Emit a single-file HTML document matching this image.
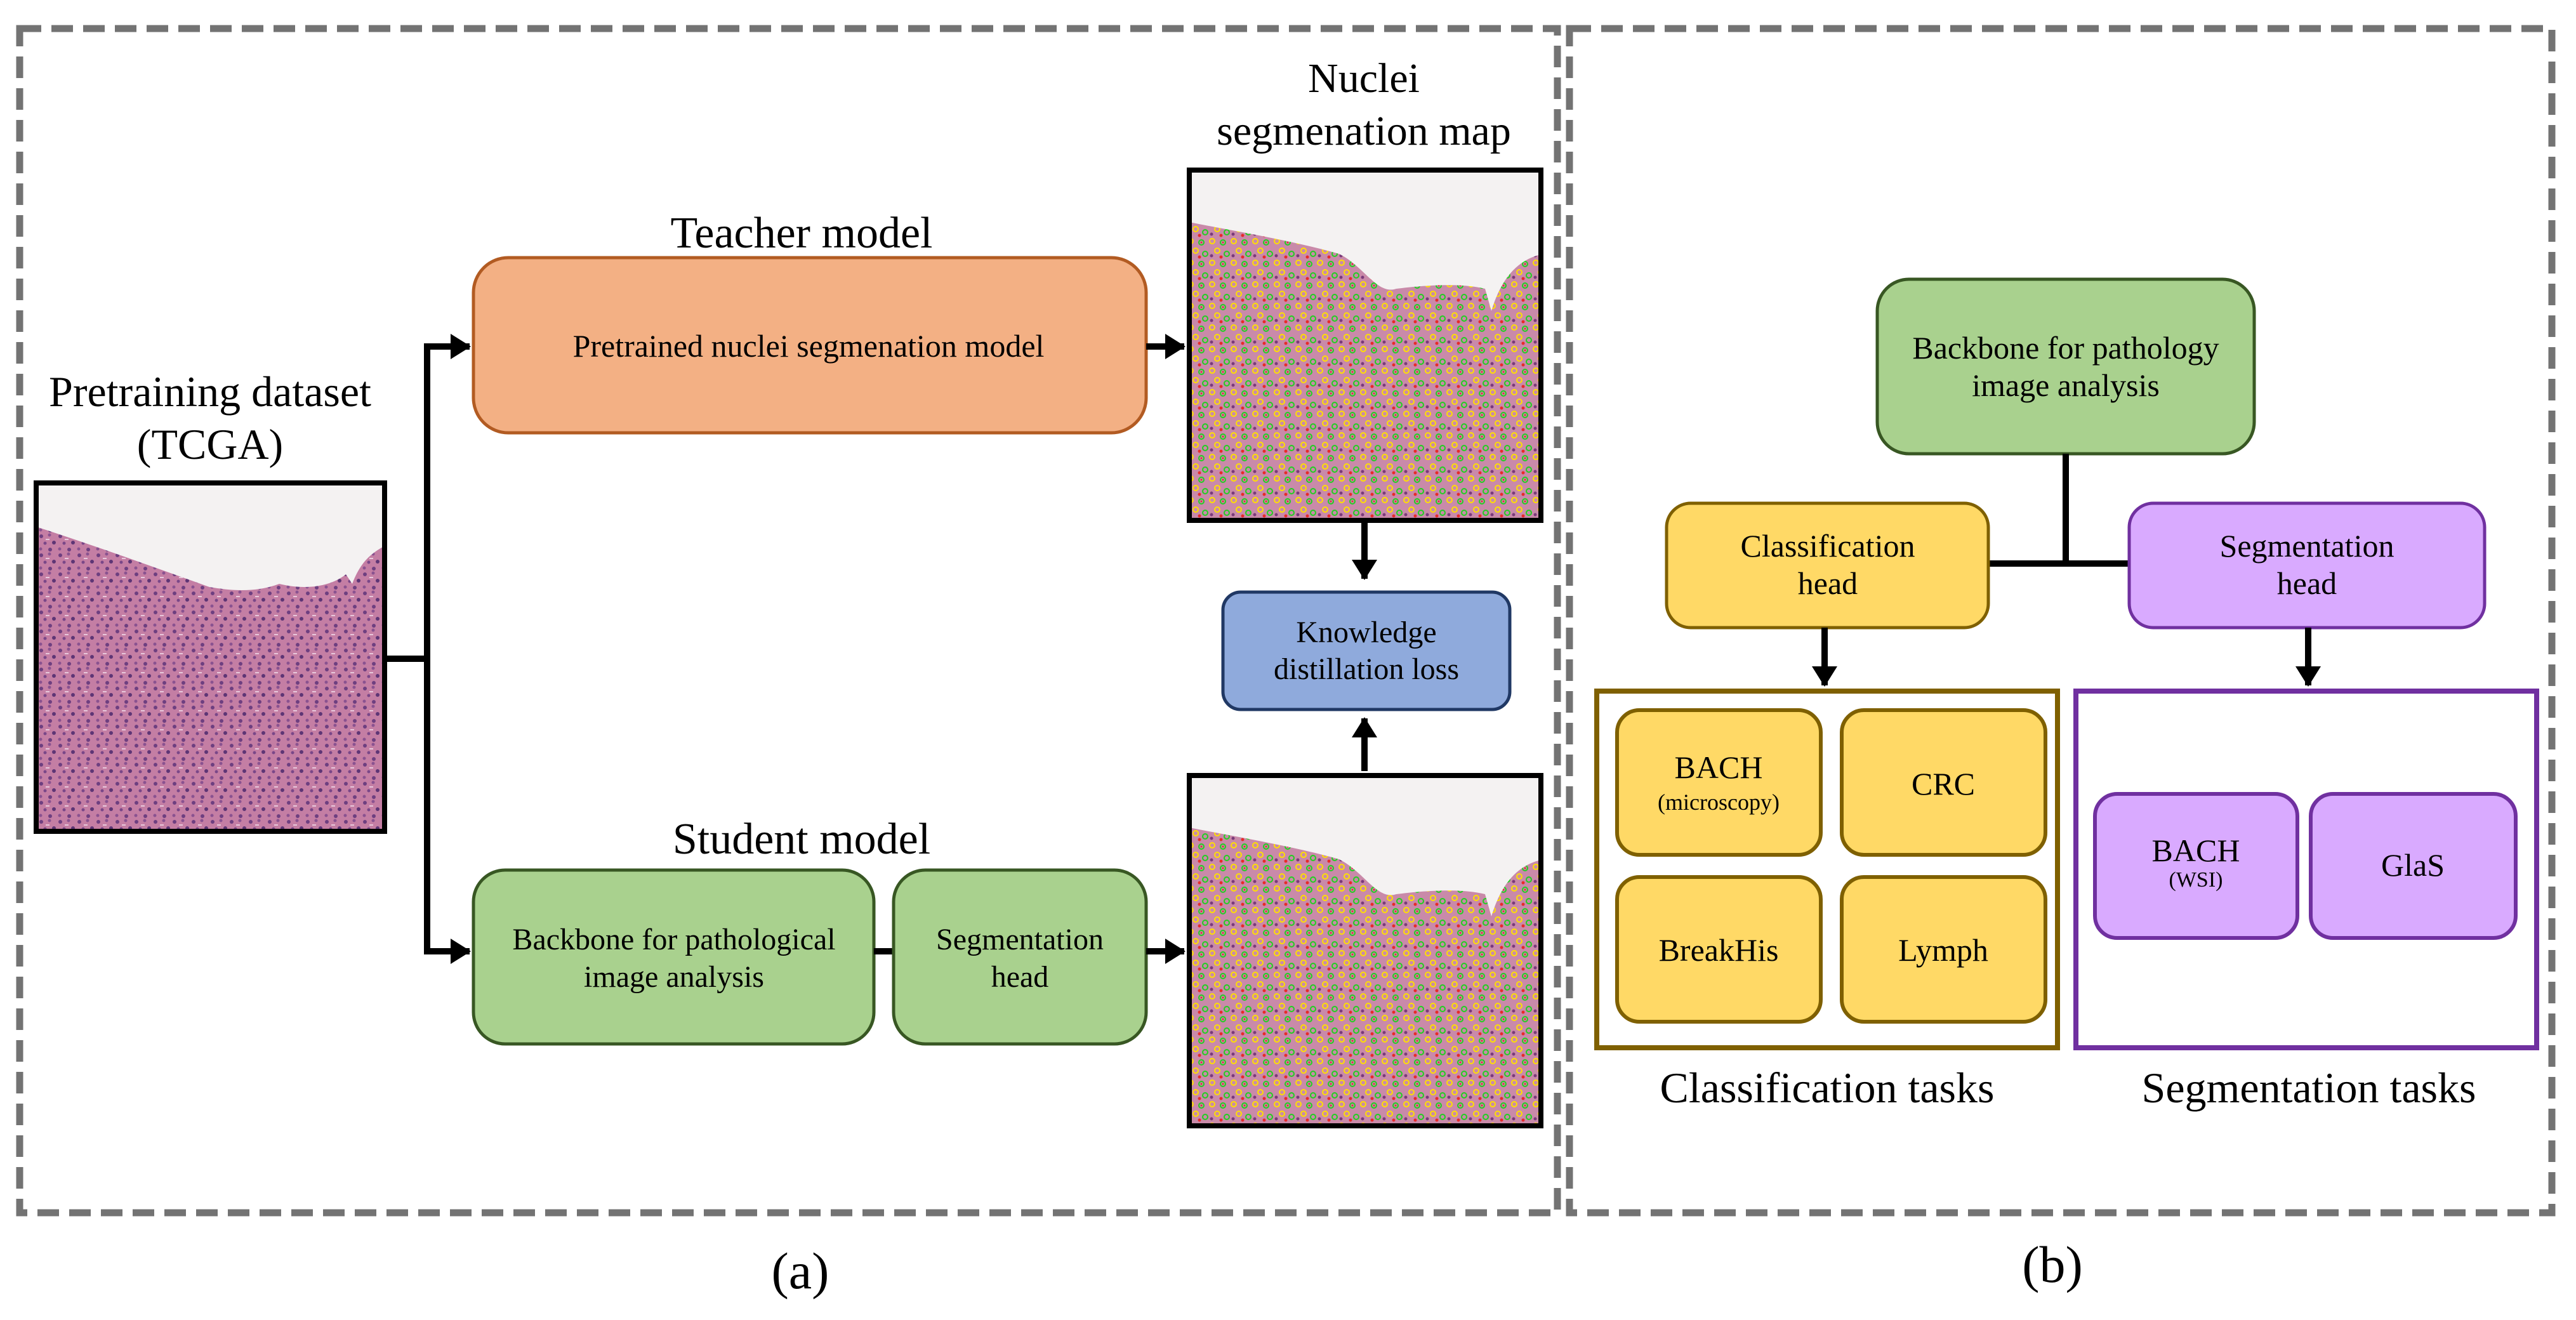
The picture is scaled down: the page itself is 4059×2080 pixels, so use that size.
<!DOCTYPE html>
<html><head><meta charset="utf-8"><style>html,body{margin:0;padding:0;background:#fff}svg{display:block}</style></head>
<body>
<svg width="4059" height="2080" viewBox="0 0 4059 2080" xmlns="http://www.w3.org/2000/svg" font-family="'Liberation Serif', serif">
<defs>
<pattern id="tis" width="30" height="30" patternUnits="userSpaceOnUse">
<rect width="30" height="30" fill="#c47ea4"/>
<circle cx="5" cy="5" r="3" fill="#6e3f80"/><circle cx="18" cy="3" r="2.5" fill="#8a5290"/>
<circle cx="25" cy="15" r="3" fill="#5e3575"/><circle cx="11" cy="16" r="2.5" fill="#7a4788"/>
<circle cx="4" cy="25" r="2.5" fill="#8a5290"/><circle cx="19" cy="26" r="3" fill="#6e3f80"/>
<rect x="12" y="9" width="6" height="2" fill="#e8c8dc"/>
</pattern>
<pattern id="seg" width="34" height="34" patternUnits="userSpaceOnUse">
<rect width="34" height="34" fill="#c98aa9"/>
<circle cx="6" cy="6" r="4" fill="none" stroke="#ffe000" stroke-width="2"/>
<circle cx="23" cy="8" r="4" fill="none" stroke="#20d020" stroke-width="2"/><circle cx="23" cy="8" r="1.5" fill="#e03040"/>
<circle cx="14" cy="21" r="4" fill="none" stroke="#ffe000" stroke-width="2"/>
<circle cx="29" cy="26" r="4" fill="none" stroke="#20d020" stroke-width="2"/>
<circle cx="5" cy="29" r="2.5" fill="#7a3a7a"/><circle cx="20" cy="31" r="2.5" fill="#e82a2a"/>
</pattern>
<marker id="ah" markerWidth="4" markerHeight="4" refX="3" refY="2" orient="auto" markerUnits="strokeWidth"><path d="M0,0 L3.2,2 L0,4 Z" fill="#000"/></marker>
</defs>

<rect x="31" y="45" width="2423" height="1866" fill="none" stroke="#737373" stroke-width="11" stroke-dasharray="34,16"/>
<rect x="2473" y="45" width="1548" height="1866" fill="none" stroke="#737373" stroke-width="11" stroke-dasharray="34,16"/>

<text x="331" y="640" font-size="68" text-anchor="middle">Pretraining dataset</text>
<text x="331" y="723" font-size="68" text-anchor="middle">(TCGA)</text>
<g>
<rect x="57" y="761" width="549" height="549" fill="url(#tis)"/>
<path d="M57,761 H606 V860 C590,870 570,880 555,920 L545,905 C520,925 480,930 440,920 C400,935 360,930 330,925 C260,900 150,860 57,830 Z" fill="#f4f2f2"/>
<rect x="57" y="761" width="549" height="549" fill="none" stroke="#000" stroke-width="8"/>
</g>

<path d="M606,1038 H673 V546 H740" fill="none" stroke="#000" stroke-width="10" marker-end="url(#ah)"/>
<path d="M673,1038 V1499 H740" fill="none" stroke="#000" stroke-width="10" marker-end="url(#ah)"/>

<text x="1263" y="390" font-size="70" text-anchor="middle">Teacher model</text>
<rect x="746" y="406" width="1060" height="276" rx="55" fill="#f3b084" stroke="#b25b22" stroke-width="5"/>
<text x="1274" y="562" font-size="50" text-anchor="middle">Pretrained nuclei segmenation model</text>
<path d="M1806,546 H1866" stroke="#000" stroke-width="10" marker-end="url(#ah)"/>

<text x="2149" y="145" font-size="66" text-anchor="middle">Nuclei</text>
<text x="2149" y="228" font-size="66" text-anchor="middle">segmenation map</text>
<g>
<rect x="1874" y="268" width="554" height="552" fill="url(#seg)"/>
<path d="M1874,268 H2428 V401 C2390,410 2365,440 2350,490 L2340,455 C2300,445 2240,450 2200,455 C2170,465 2150,420 2110,400 C2040,380 1950,365 1874,350 Z" fill="#f4f2f2"/>
<rect x="1874" y="268" width="554" height="552" fill="none" stroke="#000" stroke-width="8"/>
</g>
<path d="M2150,822 V912" stroke="#000" stroke-width="10" marker-end="url(#ah)"/>

<rect x="1927" y="933" width="452" height="185" rx="28" fill="#8faadc" stroke="#203864" stroke-width="5"/>
<text x="2153" y="1012" font-size="48" text-anchor="middle">Knowledge</text>
<text x="2153" y="1070" font-size="48" text-anchor="middle">distillation loss</text>
<path d="M2150,1215 V1132" stroke="#000" stroke-width="10" marker-end="url(#ah)"/>

<g>
<rect x="1874" y="1222" width="554" height="552" fill="url(#seg)"/>
<path d="M1874,1222 H2428 V1355 C2390,1364 2365,1394 2350,1444 L2340,1409 C2300,1399 2240,1404 2200,1409 C2170,1419 2150,1374 2110,1354 C2040,1334 1950,1319 1874,1304 Z" fill="#f4f2f2"/>
<rect x="1874" y="1222" width="554" height="552" fill="none" stroke="#000" stroke-width="8"/>
</g>

<text x="1263" y="1345" font-size="70" text-anchor="middle">Student model</text>
<rect x="746" y="1371" width="631" height="274" rx="50" fill="#a9d18e" stroke="#385723" stroke-width="5"/>
<text x="1062" y="1496" font-size="48" text-anchor="middle">Backbone for pathological</text>
<text x="1062" y="1555" font-size="48" text-anchor="middle">image analysis</text>
<path d="M1377,1499 H1408" stroke="#000" stroke-width="10"/>
<rect x="1408" y="1371" width="398" height="274" rx="50" fill="#a9d18e" stroke="#385723" stroke-width="5"/>
<text x="1607" y="1496" font-size="48" text-anchor="middle">Segmentation</text>
<text x="1607" y="1555" font-size="48" text-anchor="middle">head</text>
<path d="M1806,1499 H1866" stroke="#000" stroke-width="10" marker-end="url(#ah)"/>

<text x="1261" y="2030" font-size="82" text-anchor="middle">(a)</text>

<rect x="2958" y="440" width="594" height="275" rx="50" fill="#a9d18e" stroke="#385723" stroke-width="5"/>
<text x="3255" y="565" font-size="50" text-anchor="middle">Backbone for pathology</text>
<text x="3255" y="624" font-size="50" text-anchor="middle">image analysis</text>
<path d="M3255,715 V888 M3133,888 H3355" stroke="#000" stroke-width="10" fill="none"/>

<rect x="2626" y="793" width="507" height="196" rx="38" fill="#ffd966" stroke="#7f6000" stroke-width="5"/>
<text x="2880" y="877" font-size="50" text-anchor="middle">Classification</text>
<text x="2880" y="936" font-size="50" text-anchor="middle">head</text>
<rect x="3355" y="793" width="560" height="196" rx="38" fill="#d9aaff" stroke="#7030a0" stroke-width="5"/>
<text x="3635" y="877" font-size="50" text-anchor="middle">Segmentation</text>
<text x="3635" y="936" font-size="50" text-anchor="middle">head</text>

<path d="M2875,989 V1080" stroke="#000" stroke-width="10" marker-end="url(#ah)"/>
<path d="M3637,989 V1080" stroke="#000" stroke-width="10" marker-end="url(#ah)"/>

<rect x="2516" y="1089" width="726" height="562" fill="#fff" stroke="#7f6000" stroke-width="8"/>
<rect x="2548" y="1119" width="321" height="228" rx="35" fill="#ffd966" stroke="#7f6000" stroke-width="6"/>
<rect x="2902" y="1119" width="321" height="228" rx="35" fill="#ffd966" stroke="#7f6000" stroke-width="6"/>
<rect x="2548" y="1382" width="321" height="228" rx="35" fill="#ffd966" stroke="#7f6000" stroke-width="6"/>
<rect x="2902" y="1382" width="321" height="228" rx="35" fill="#ffd966" stroke="#7f6000" stroke-width="6"/>
<text x="2708" y="1226" font-size="50" text-anchor="middle">BACH</text>
<text x="2708" y="1276" font-size="36" text-anchor="middle">(microscopy)</text>
<text x="3062" y="1252" font-size="50" text-anchor="middle">CRC</text>
<text x="2708" y="1514" font-size="50" text-anchor="middle">BreakHis</text>
<text x="3062" y="1514" font-size="50" text-anchor="middle">Lymph</text>

<rect x="3271" y="1089" width="726" height="562" fill="#fff" stroke="#7030a0" stroke-width="8"/>
<rect x="3301" y="1251" width="319" height="227" rx="35" fill="#d9aaff" stroke="#7030a0" stroke-width="6"/>
<rect x="3641" y="1251" width="323" height="227" rx="35" fill="#d9aaff" stroke="#7030a0" stroke-width="6"/>
<text x="3460" y="1357" font-size="50" text-anchor="middle">BACH</text>
<text x="3460" y="1397" font-size="34" text-anchor="middle">(WSI)</text>
<text x="3802" y="1380" font-size="50" text-anchor="middle">GlaS</text>

<text x="2879" y="1737" font-size="68" text-anchor="middle">Classification tasks</text>
<text x="3638" y="1737" font-size="68" text-anchor="middle">Segmentation tasks</text>
<text x="3234" y="2020" font-size="82" text-anchor="middle">(b)</text>
</svg>
</body></html>
